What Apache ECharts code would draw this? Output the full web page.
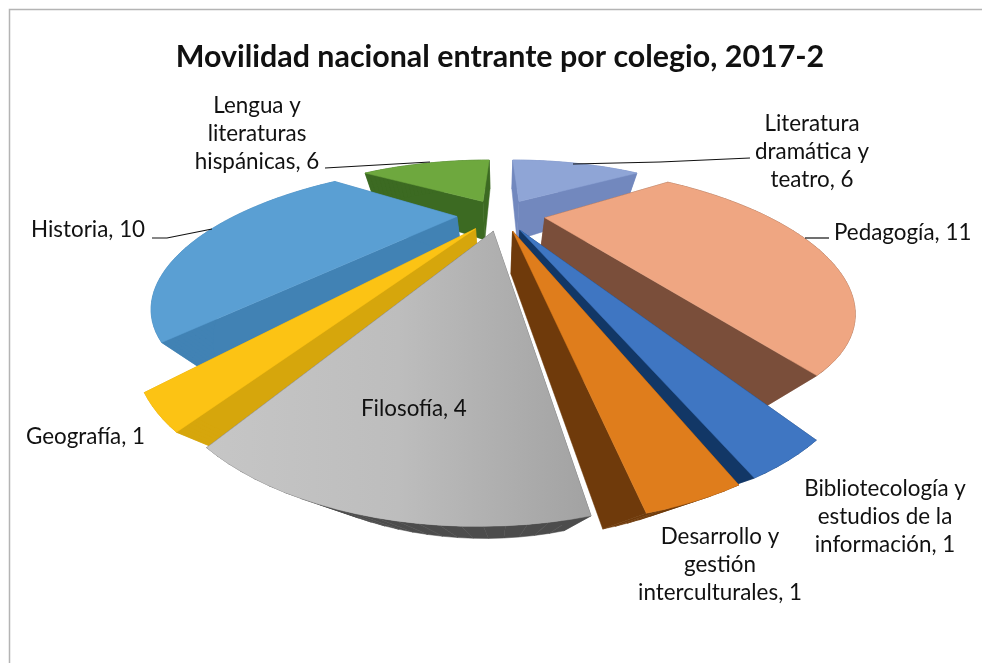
<!DOCTYPE html>
<html>
<head>
<meta charset="utf-8">
<style>html,body{margin:0;padding:0;background:#fff}#c{width:982px;height:663px}</style>
<script src="https://cdn.jsdelivr.net/npm/echarts@6/dist/echarts.min.js"></script>
</head>
<body>
<div id="c"></div>
<script>
const titleText = 'Movilidad nacional entrante por colegio, 2017-2';
const categories = ['Literatura\ndramática y\nteatro', 'Pedagogía', 'Bibliotecología y\nestudios de la\ninformación', 'Desarrollo y\ngestión\ninterculturales', 'Filosofía', 'Geografía', 'Historia', 'Lengua y\nliteraturas\nhispánicas'];
const values = [6, 11, 1, 1, 4, 1, 10, 6];
const topColors = ['#8fa5d6', '#efa682', '#3f76c2', '#df7d1c', '#bcbcbc', '#fcc314', '#5a9fd3', '#6ea83e'];
const wallColors = ['#7288be', '#7a4e3a', '#123766', '#6f3a0b', '#4c4c4c', '#d6a60c', '#4182b4', '#3c6a22'];

// perspective camera of the pie, fitted to the picture
const cam = { cx: 501, F: 219, k: 0.587, Y0: 214, dY: -132, nx: 500, ny: 566, m: 0.13, explode: 0.2 };
function projTop(x, y) {
  const den = 1 + cam.k * y;
  return { X: cam.cx + cam.F * x / den, Y: cam.Y0 + cam.dY * (cam.k * y) / den, den };
}
function projBottom(x, y) {
  const p = projTop(x, y);
  const t = p.den / (p.den + cam.m);
  return { X: cam.nx + (p.X - cam.nx) * t, Y: cam.ny + (p.Y - cam.ny) * t };
}
const total = values.reduce((a, b) => a + b, 0);
const slices = [];
let acc = 0;
values.forEach((v, i) => {
  const a0 = acc / total * 2 * Math.PI;
  acc += v;
  const a1 = acc / total * 2 * Math.PI;
  slices.push({ i, v, a0, a1, mid: (a0 + a1) / 2 });
});
const paintOrder = slices.slice().sort((p, q) => Math.cos(q.mid) - Math.cos(p.mid));

function renderSlice(params, api) {
  const s = paintOrder[params.dataIndex];
  const ex = cam.explode * Math.sin(s.mid), ey = cam.explode * Math.cos(s.mid);
  const steps = Math.max(6, Math.ceil((s.a1 - s.a0) / 0.03));
  const rim = [];
  for (let j = 0; j <= steps; j++) {
    const a = s.a0 + (s.a1 - s.a0) * j / steps;
    rim.push([ex + Math.sin(a), ey + Math.cos(a)]);
  }
  const apex = [ex, ey];
  const outline = [apex].concat(rim);
  const T = outline.map(q => { const p = projTop(q[0], q[1]); return [p.X, p.Y]; });
  const B = outline.map(q => { const p = projBottom(q[0], q[1]); return [p.X, p.Y]; });
  const wall = wallColors[s.i];
  const children = [];
  for (let j = 0; j < T.length; j++) {
    const n = (j + 1) % T.length;
    children.push({
      type: 'polygon',
      shape: { points: [T[j], T[n], B[n], B[j]] },
      style: { fill: wall, stroke: wall, lineWidth: 0.5 }
    });
  }
  let fill = topColors[s.i];
  if (s.i === 4) {
    fill = { type: 'linear', x: 0, y: 0, x2: 1, y2: 0, colorStops: [
      { offset: 0, color: '#c6c6c6' }, { offset: 0.5, color: '#bdbdbd' }, { offset: 1, color: '#a2a2a2' } ] };
  }
  children.push({ type: 'polygon', shape: { points: T }, style: { fill, stroke: fill, lineWidth: 0.5 } });
  return { type: 'group', children };
}

const font = 'Lato, "Open Sans", sans-serif';
const lbl = (i, x, y, align) => ({
  type: 'text', x, y, z: 10,
  style: { text: categories[i] + ', ' + values[i], fontFamily: font, fontSize: 22.4, lineHeight: 28, fill: '#111', align: align, verticalAlign: 'middle' }
});
const leader = pts => ({ type: 'polyline', z: 9, shape: { points: pts }, style: { stroke: '#111', lineWidth: 1.2, fill: null } });

const chart = echarts.init(document.getElementById('c'), null, { renderer: 'canvas' });
chart.setOption({
  animation: false,
  backgroundColor: '#fff',
  series: [{
    type: 'custom', coordinateSystem: 'none', silent: true,
    data: paintOrder.map(s => [s.v]),
    renderItem: renderSlice
  }],
  graphic: [
    { type: 'rect', z: 0, shape: { x: 9.5, y: 9.5, width: 990, height: 670 }, style: { fill: null, stroke: '#b4b4b4', lineWidth: 1.5 } },
    { type: 'text', x: 500, y: 57, z: 10, style: { text: titleText, fontFamily: font, fontSize: 30.4, fontWeight: 'bold', fill: '#111', align: 'center', verticalAlign: 'middle' } },
    lbl(7, 257, 134, 'center'), lbl(0, 812, 152, 'center'), lbl(1, 834, 233, 'left'), lbl(6, 31, 230, 'left'),
    lbl(5, 26, 437, 'left'), lbl(4, 361, 409, 'left'), lbl(2, 885, 517, 'center'), lbl(3, 720, 565, 'center'),
    leader([[325, 168], [430, 162]]), leader([[573, 164], [660, 162], [750, 158]]), leader([[805, 238], [829, 238]]), leader([[152, 238], [167, 238], [212, 229]])
  ]
});
</script>
</body>
</html>
